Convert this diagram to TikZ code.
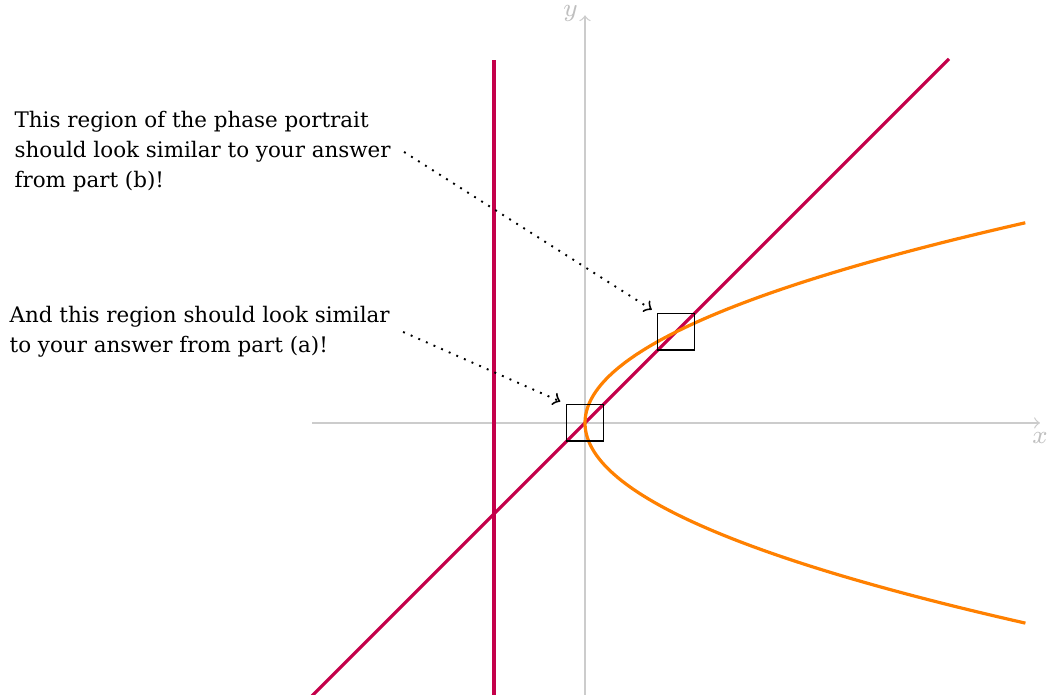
\documentclass[tikz,border=0pt]{standalone}
\usepackage{fontspec}
\setmainfont{DejaVu Serif}
\begin{document}
\begin{tikzpicture}[x=1cm,y=1cm,
  axis/.style={draw=black!20, line width=0.4pt, ->},
  axislabel/.style={text=black!25, font=\fontsize{8}{9}\selectfont, inner sep=1pt},
  crim/.style={draw={rgb,255:red,196;green,0;blue,74}, line width=1pt},
  orng/.style={draw={rgb,255:red,255;green,128;blue,0}, line width=1pt},
  regionbox/.style={draw=black, line width=0.4pt, minimum size=0.4cm, inner sep=0, fill=none},
  note/.style={align=left, inner ysep=0pt, inner xsep=0.14cm, anchor=west, font=\fontsize{6.7}{9.38}\selectfont},
  pointer/.style={dotted, line width=0.6pt, ->, shorten >=2pt}
]
\useasboundingbox (-6.429,-2.989) rectangle (5.088,4.648);
% axes
\draw[axis] (-3,0) -- (5,0);
\draw[axis] (0,-3) -- (0,4.48);
\node[axislabel] (xl) at (5.0,-0.16) {$x$};
\node[axislabel] (yl) at (-0.16,4.5) {$y$};
% curves
\draw[crim] (-1,-3) -- (-1,3.99);
\draw[crim] (-3,-3) -- (4,4);
\draw[orng] plot[domain=-2.2:2.2, samples=120, smooth] ({\x*\x},\x);
% boxes
\node[regionbox] (b0) at (0,0) {};
\node[regionbox] (b1) at (1,1) {};
% notes
\node[note] (t1) at (-6.415,2.978) {This region of the phase portrait\\should look similar to your answer\\from part (b)!};
\node[note] (t2) at (-6.47,1.0) {And this region should look similar\\to your answer from part (a)!};
\draw[pointer] (t1.east) -- (b1.north west);
\draw[pointer] (t2.east) -- (b0.north west);
\end{tikzpicture}
\end{document}
